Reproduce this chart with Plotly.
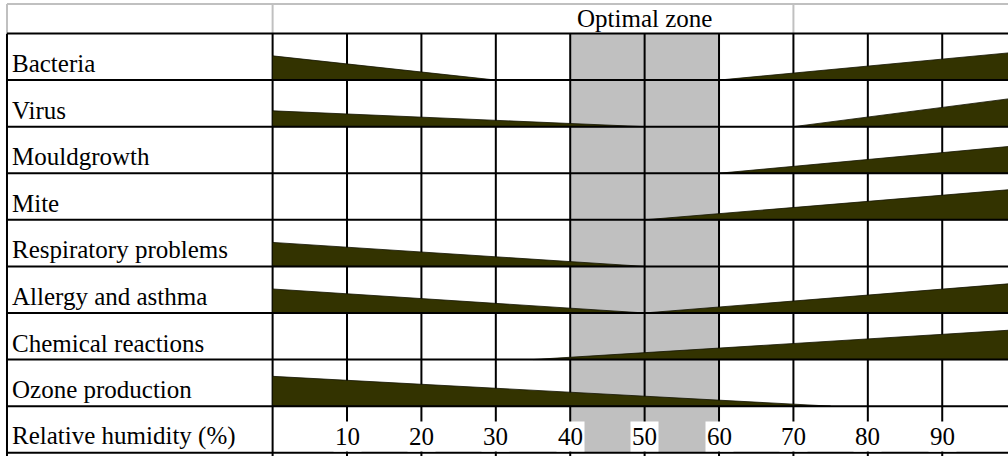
import plotly.graph_objects as go

# ---------------- data ----------------
rows = ["Bacteria", "Virus", "Mouldgrowth", "Mite", "Respiratory problems",
        "Allergy and asthma", "Chemical reactions", "Ozone production"]
axis_row_label = "Relative humidity (%)"
header_text = "Optimal zone"
optimal_zone = [40, 60]
tick_values = [10, 20, 30, 40, 50, 60, 70, 80, 90]

wedge_row = ["Bacteria", "Bacteria", "Virus", "Virus", "Mouldgrowth", "Mite",
             "Respiratory problems", "Allergy and asthma", "Allergy and asthma",
             "Chemical reactions", "Ozone production"]
wedge_from = [0, 60, 0, 70, 60, 50, 0, 0, 50, 35, 0]
wedge_to = [30, 100, 50, 100, 100, 100, 50, 50, 100, 100, 75]
level_from = [0.52, 0.0, 0.34, 0.0, 0.0, 0.0, 0.515, 0.515, 0.0, 0.0, 0.64]
level_to = [0.0, 0.60, 0.0, 0.62, 0.59, 0.66, 0.0, 0.0, 0.64, 0.64, 0.0]

# ---------------- layout constants ----------------
W, H = 1008, 456
X_RANGE = [-36.64, 98.84]
Y_RANGE = [9.0704, -0.7192]      # reversed: row i occupies [i, i+1]
LEFT_BORDER = -35.70
HEADER_TOP = -0.6333
HEADER_SPLIT = 70
WEDGE_COLOR = "#333300"
ZONE_COLOR = "#C0C0C0"
GRID_GREY = "#C0C0C0"
FONT = "Liberation Serif, Times New Roman, serif"
FS = 25

n_rows = len(rows) + 1  # plus the humidity row
fig = go.Figure()

# wedges
for r, x0, x1, l0, l1 in zip(wedge_row, wedge_from, wedge_to, level_from, level_to):
    base = rows.index(r) + 1
    fig.add_trace(go.Scatter(
        x=[x0, x1, x1, x0, x0],
        y=[base - l0, base - l1, base, base, base - l0],
        mode="lines", fill="toself", fillcolor=WEDGE_COLOR,
        line=dict(color="#111100", width=0.8),
        hoverinfo="skip", showlegend=False))

shapes = []
# optimal zone
shapes.append(dict(type="rect", xref="x", yref="y", x0=optimal_zone[0], x1=optimal_zone[1],
                   y0=0, y1=n_rows, fillcolor=ZONE_COLOR, line=dict(width=0), layer="below"))
# vertical black lines (including x=0 boundary and left border)
for v in [LEFT_BORDER, 0] + tick_values:
    shapes.append(dict(type="line", xref="x", yref="y", x0=v, x1=v, y0=0, y1=Y_RANGE[0] + 1,
                       line=dict(color="black", width=2), layer="below"))
# header grey lines
shapes.append(dict(type="line", xref="x", yref="y", x0=LEFT_BORDER, x1=X_RANGE[1] + 5,
                   y0=HEADER_TOP, y1=HEADER_TOP, line=dict(color=GRID_GREY, width=2), layer="below"))
for v in [LEFT_BORDER, 0, HEADER_SPLIT]:
    shapes.append(dict(type="line", xref="x", yref="y", x0=v, x1=v, y0=HEADER_TOP, y1=0,
                       line=dict(color=GRID_GREY, width=2), layer="below"))
# horizontal black lines
for k in range(n_rows + 1):
    shapes.append(dict(type="line", xref="x", yref="y", x0=LEFT_BORDER, x1=X_RANGE[1] + 5,
                       y0=k, y1=k, line=dict(color="black", width=2), layer="above"))

annotations = []
for i, name in enumerate(rows + [axis_row_label]):
    annotations.append(dict(x=LEFT_BORDER, y=i + 1, xref="x", yref="y", text=name,
                            xanchor="left", yanchor="bottom", showarrow=False,
                            xshift=3, yshift=1, font=dict(family=FONT, size=FS, color="black")))
for t in tick_values:
    annotations.append(dict(x=t, y=n_rows, xref="x", yref="y", text=str(t),
                            xanchor="center", yanchor="bottom", showarrow=False,
                            bgcolor="white", borderpad=1, yshift=1,
                            font=dict(family=FONT, size=FS, color="black")))
annotations.append(dict(x=(optimal_zone[0] + optimal_zone[1]) / 2, y=0, xref="x", yref="y",
                        text=header_text, xanchor="center", yanchor="bottom", showarrow=False,
                        yshift=-1, font=dict(family=FONT, size=FS, color="black")))

fig.update_layout(
    width=W, height=H, autosize=False,
    margin=dict(l=0, r=0, t=0, b=0, pad=0),
    paper_bgcolor="white", plot_bgcolor="white",
    xaxis=dict(range=X_RANGE, visible=False, fixedrange=True),
    yaxis=dict(range=Y_RANGE, visible=False, fixedrange=True),
    shapes=shapes, annotations=annotations, showlegend=False)

fig.write_html("out.html", config={"displayModeBar": False},
               post_script="document.body.style.margin='0';document.body.style.overflow='hidden';")
